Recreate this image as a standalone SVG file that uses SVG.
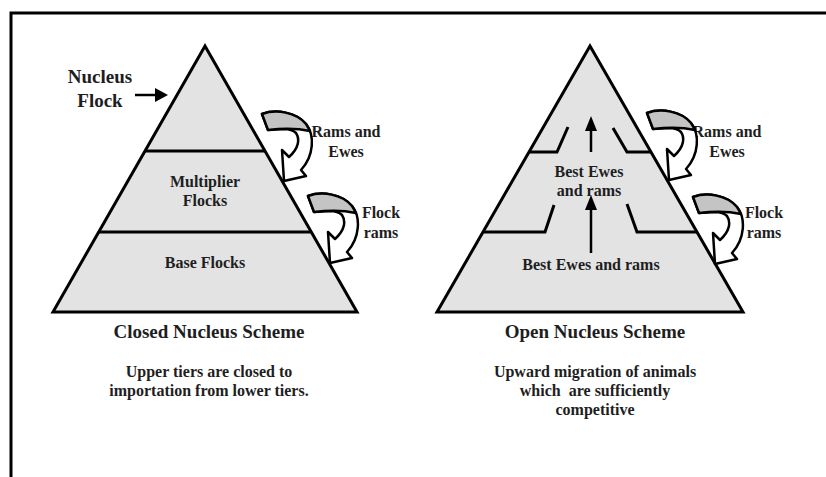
<svg xmlns="http://www.w3.org/2000/svg" xmlns:xlink="http://www.w3.org/1999/xlink" width="826" height="477" viewBox="0 0 826 477">
<style>
.t{font-family:"Liberation Serif","Times New Roman",serif;font-weight:bold;fill:#1e1e1e;text-anchor:middle}
.s16{font-size:16px}
.s19{font-size:19px}
.pyr{fill:#e3e3e3;stroke:#000;stroke-width:3;stroke-linejoin:miter}
.ln{fill:none;stroke:#000;stroke-width:3}
.arw{fill:none;stroke:#000;stroke-width:2.5}
.head{fill:#000}
.cw{fill:#fff;stroke:#000;stroke-width:2.5;stroke-linejoin:round}
.cg{fill:#c4c4c4;stroke:#000;stroke-width:2.5;stroke-linejoin:round}
</style>
<defs>
<g id="curved">
<path class="cw" d="M0,0 C14,-5 34,-2 44,10 C53,21 52,42 39,56 L44,62 L22,67 L20,36 L27,43 C37,34 38,25 34,19 C31,16 27,15 22,15 L6,16 Z"/>
<path class="cg" d="M0,0 C14,-5 34,-2 44,10 C46,13 47,15 48,17 Q30,13 6,16 Z"/>
</g>
</defs>
<rect width="826" height="477" fill="#fff"/>
<g id="frame">
<path class="ln" d="M11,477 L11,13 L826,13"/>
</g>

<g id="closed-pyramid">
<polygon class="pyr" points="205,46 357,312 53,312"/>
<line class="ln" x1="145" y1="151" x2="265" y2="151"/>
<line class="ln" x1="99" y1="232" x2="311" y2="232"/>
</g>
<g id="nucleus-label">
<text class="t s19" x="100" y="83">Nucleus</text>
<text class="t s19" x="100" y="107">Flock</text>
</g>
<g id="multiplier">
<text class="t s16" x="205" y="187">Multiplier</text>
<text class="t s16" x="205" y="206">Flocks</text>
</g>
<g id="base">
<text class="t s16" x="205" y="268">Base Flocks</text>
</g>
<g id="closed-rams-ewes">
<text class="t s16" x="346" y="137">Rams and</text>
<text class="t s16" x="346" y="157">Ewes</text>
</g>
<g id="closed-flock-rams">
<text class="t s16" x="381" y="218">Flock</text>
<text class="t s16" x="381" y="238">rams</text>
</g>
<g id="closed-caption">
<text class="t s19" x="209" y="338">Closed Nucleus Scheme</text>
<text class="t s16" x="209" y="377">Upper tiers are closed to</text>
<text class="t s16" x="209" y="396">importation from lower tiers.</text>
</g>

<g id="open-pyramid">
<polygon class="pyr" points="590,46 743,312 437,312"/>
<path class="ln" d="M529,152 L557,152 L568,127"/>
<path class="ln" d="M613,128 L627,152 L651,152"/>
<path class="ln" d="M483,232 L545,232 L554,205"/>
<path class="ln" d="M627,204 L637,232 L697,232"/>
</g>
<g id="best-upper">
<text class="t s16" x="589" y="177">Best Ewes</text>
<text class="t s16" x="589" y="196">and rams</text>
</g>
<g id="best-lower">
<text class="t s16" x="591" y="270">Best Ewes and rams</text>
</g>
<g id="open-rams-ewes">
<text class="t s16" x="727" y="137">Rams and</text>
<text class="t s16" x="727" y="157">Ewes</text>
</g>
<g id="open-flock-rams">
<text class="t s16" x="764" y="218">Flock</text>
<text class="t s16" x="764" y="238">rams</text>
</g>
<g id="open-caption">
<text class="t s19" x="595" y="338">Open Nucleus Scheme</text>
<text class="t s16" x="595" y="377">Upward migration of animals</text>
<text class="t s16" x="595" y="396" xml:space="preserve" style="white-space:pre">which  are sufficiently</text>
<text class="t s16" x="595" y="415">competitive</text>
</g>

<g id="connectors">
<line class="arw" x1="135" y1="95" x2="157" y2="95"/>
<polygon class="head" points="155,88 168,95 155,102"/>
<line class="arw" x1="591" y1="152" x2="591" y2="128"/>
<polygon class="head" points="585,131 591,116 597,131"/>
<line class="arw" x1="591" y1="253" x2="591" y2="207"/>
<polygon class="head" points="585,210 591,195 597,210"/>
<use xlink:href="#curved" transform="translate(262,114)"/>
<use xlink:href="#curved" transform="translate(308,196)"/>
<use xlink:href="#curved" transform="translate(647,113)"/>
<use xlink:href="#curved" transform="translate(693,197)"/>
</g>
</svg>
